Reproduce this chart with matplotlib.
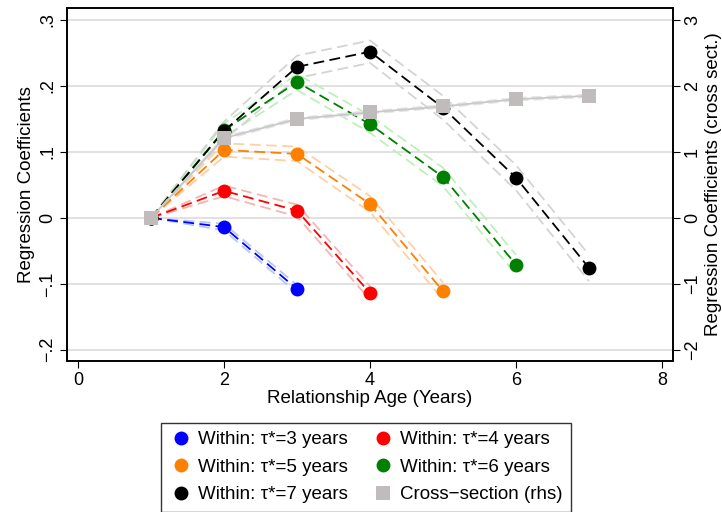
import matplotlib
matplotlib.use('Agg')
import matplotlib.pyplot as plt
from matplotlib.lines import Line2D

plt.rcParams['font.family'] = ['Liberation Sans', 'DejaVu Sans']

# Within estimates (left axis), one series per tau*
age3 = [1, 2, 3]
coef3 = [0.0, -0.014, -0.108]
se3 = [0.0, 0.005, 0.006]

age4 = [1, 2, 3, 4]
coef4 = [0.0, 0.041, 0.011, -0.114]
se4 = [0.0, 0.008, 0.009, 0.010]

age5 = [1, 2, 3, 4, 5]
coef5 = [0.0, 0.103, 0.097, 0.021, -0.111]
se5 = [0.0, 0.010, 0.011, 0.012, 0.013]

age6 = [1, 2, 3, 4, 5, 6]
coef6 = [0.0, 0.133, 0.206, 0.142, 0.062, -0.071]
se6 = [0.0, 0.010, 0.012, 0.013, 0.014, 0.015]

age7 = [1, 2, 3, 4, 5, 6, 7]
coef7 = [0.0, 0.132, 0.229, 0.252, 0.167, 0.061, -0.076]
se7 = [0.0, 0.014, 0.017, 0.017, 0.018, 0.019, 0.020]

# Cross-section estimates (right axis)
age_cs = [1, 2, 3, 4, 5, 6, 7]
coef_cs = [0.0, 1.21, 1.50, 1.60, 1.69, 1.80, 1.85]
se_cs = [0.0, 0.02, 0.02, 0.02, 0.02, 0.02, 0.02]

left_ticks = [-0.2, -0.1, 0, 0.1, 0.2, 0.3]
left_labels = ['\u2212.2', '\u2212.1', '0', '.1', '.2', '.3']
right_ticks = [-2, -1, 0, 1, 2, 3]
right_labels = ['\u22122', '\u22121', '0', '1', '2', '3']
x_ticks = [0, 2, 4, 6, 8]

series = [
    (age3, coef3, se3, '#0000ff', '#b4c8f5', 'Within: \u03c4*=3 years'),
    (age4, coef4, se4, '#ff0000', '#f8b4b4', 'Within: \u03c4*=4 years'),
    (age5, coef5, se5, '#ff8000', '#fdd0a8', 'Within: \u03c4*=5 years'),
    (age6, coef6, se6, '#008000', '#bfeebf', 'Within: \u03c4*=6 years'),
    (age7, coef7, se7, '#000000', '#d4d4d4', 'Within: \u03c4*=7 years'),
]

fig = plt.figure(figsize=(7.22, 5.12), dpi=100)
ax = fig.add_axes([0.093, 0.295, 0.839, 0.689])

for x, y, se, col, light, lab in series:
    lo = [a - b for a, b in zip(y, se)]
    hi = [a + b for a, b in zip(y, se)]
    ax.plot(x, lo, color=light, lw=1.3, dashes=(6, 3), zorder=2)
    ax.plot(x, hi, color=light, lw=1.3, dashes=(6, 3), zorder=2)
    ax.plot(x, y, color=col, lw=1.3, dashes=(6, 3), marker='o', ms=10,
            markeredgewidth=0, zorder=3)

ax.set_xlim(-0.15, 8.15)
ax.set_ylim(-0.217, 0.318)
ax.set_xticks(x_ticks)
ax.set_yticks(left_ticks)
ax.set_yticklabels(left_labels, rotation=90, va='center')
ax.grid(axis='y', color='#dcdcdc', lw=1.2)
ax.set_axisbelow(True)
ax.tick_params(labelsize=13, length=5, direction='out', pad=3)
ax.set_xlabel('Relationship Age (Years)', fontsize=13.5, labelpad=1)
ax.set_ylabel('Regression Coefficients', fontsize=13.5, labelpad=3)

ax2 = ax.twinx()
lo = [a - b for a, b in zip(coef_cs, se_cs)]
hi = [a + b for a, b in zip(coef_cs, se_cs)]
ax2.plot(age_cs, lo, color='#e4e4e4', lw=1.2, dashes=(6, 3))
ax2.plot(age_cs, hi, color='#e4e4e4', lw=1.2, dashes=(6, 3))
ax2.plot(age_cs, coef_cs, color='#c8c8c8', lw=1.3, marker='s', ms=10,
         markerfacecolor='#c0bcbc', markeredgewidth=0)
ax2.set_ylim(-2.17, 3.18)
ax2.set_yticks(right_ticks)
ax2.set_yticklabels(right_labels, rotation=90, va='center')
ax2.tick_params(labelsize=13, length=5, direction='out', pad=3)
ax2.set_ylabel('Regression Coefficients (cross sect.)', fontsize=13.5, labelpad=3)

for a in (ax, ax2):
    for s in a.spines.values():
        s.set_linewidth(1.2)

handles = []
for x, y, se, col, light, lab in series:
    handles.append(Line2D([], [], ls='none', marker='o', ms=10,
                          color=col, markeredgewidth=0, label=lab))
handles.append(Line2D([], [], ls='none', marker='s', ms=10,
                      color='#c0bcbc', markeredgewidth=0,
                      label='Cross\u2212section (rhs)'))
order = [0, 2, 4, 1, 3, 5]
leg = fig.legend([handles[i] for i in order],
                 [handles[i].get_label() for i in order],
                 loc='upper center', bbox_to_anchor=(0.507, 0.174),
                 ncol=2, fontsize=13.5, frameon=True, fancybox=False,
                 edgecolor='black', handletextpad=0.3, columnspacing=1.3,
                 labelspacing=0.55, borderpad=0.45, handlelength=1.2,
                 borderaxespad=0)
leg.get_frame().set_linewidth(1.0)

fig.savefig('out.png', dpi=100)
